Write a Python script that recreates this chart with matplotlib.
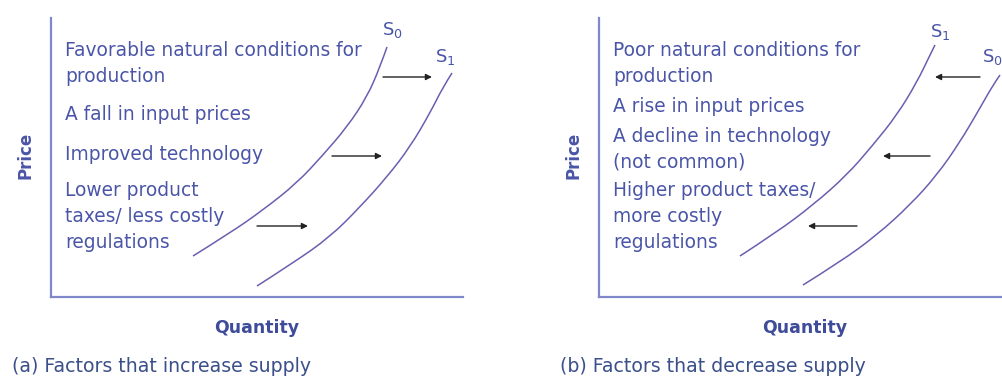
import matplotlib.pyplot as plt
from matplotlib.path import Path
from matplotlib.patches import PathPatch

# supply curves (quantity, price), panel units
q_a_s0 = [142, 179, 212, 246, 272, 296, 316, 329, 336]
p_a_s0 = [41, 64, 87, 114, 142, 170, 200, 230, 250]
q_a_s1 = [206, 242, 279, 309, 336, 359, 379, 392, 401]
p_a_s1 = [11, 34, 60, 90, 120, 150, 184, 210, 224]

q_b_s1 = [141, 178, 214, 248, 274, 298, 318, 331, 336]
p_b_s1 = [41, 65, 92, 122, 152, 182, 215, 242, 252]
q_b_s0 = [204, 241, 278, 311, 338, 361, 381, 394, 401]
p_b_s0 = [12, 35, 62, 92, 122, 155, 189, 212, 222]

# shift arrows: start q, end q, price level
arrow_a_from = [332, 281, 206]
arrow_a_to = [381, 331, 257]
arrow_b_from = [381, 331, 258]
arrow_b_to = [336, 284, 209]
arrow_p = [220, 141, 71]

factors_a = ["Favorable natural conditions for", "production",
             "A fall in input prices", "Improved technology",
             "Lower product", "taxes/ less costly", "regulations"]
factors_a_p = [246, 221, 183, 143, 107, 81, 55]
factors_b = ["Poor natural conditions for", "production",
             "A rise in input prices", "A decline in technology",
             "(not common)", "Higher product taxes/", "more costly",
             "regulations"]
factors_b_p = [246, 221, 190, 160, 135, 106, 81, 55]

TXT = '#4a55a8'
AXC = '#8088cc'
CRV = '#6a5fb0'

plt.rcParams['font.family'] = ['DejaVu Sans']
plt.rcParams['mathtext.fontset'] = 'custom'
plt.rcParams['mathtext.rm'] = 'DejaVu Sans'

W, H = 1002, 380
fig = plt.figure(figsize=(W / 100, H / 100), dpi=100)
fig.patch.set_facecolor('white')


def smooth_curve(ax, q, p):
    # quadratic bezier through midpoints, read points act as controls
    pts = list(zip(q, p))
    verts = [pts[0]]
    codes = [Path.MOVETO]
    for i in range(1, len(pts) - 1):
        if i < len(pts) - 2:
            end = ((pts[i][0] + pts[i + 1][0]) / 2, (pts[i][1] + pts[i + 1][1]) / 2)
        else:
            end = pts[-1]
        verts += [pts[i], end]
        codes += [Path.CURVE3, Path.CURVE3]
    ax.add_patch(PathPatch(Path(verts, codes), fill=False, edgecolor=CRV,
                           lw=1.1, clip_on=False))


def panel(x0, width, curves, labels, afrom, ato, factors, fp, cap, cap_x, qx):
    ax = fig.add_axes([x0 / W, (H - 297) / H, width / W, 279 / H])
    ax.set_xlim(0, width)
    ax.set_ylim(0, 279)
    for s in ['top', 'right']:
        ax.spines[s].set_visible(False)
    for s in ['left', 'bottom']:
        ax.spines[s].set_color(AXC)
        ax.spines[s].set_linewidth(1.6)
    ax.set_xticks([])
    ax.set_yticks([])
    ax.patch.set_alpha(0)
    for (q, p) in curves:
        smooth_curve(ax, q, p)
    for (txt, q, p) in labels:
        ax.text(q, p, txt, color=TXT, fontsize=13, ha='center', va='center',
                clip_on=False)
    for a, b, p in zip(afrom, ato, arrow_p):
        ax.annotate('', xy=(b, p), xytext=(a, p),
                    arrowprops=dict(arrowstyle='-|>', color='#222222', lw=1,
                                    mutation_scale=9, shrinkA=0, shrinkB=0))
    for t, p in zip(factors, fp):
        ax.text(14, p, t, color=TXT, fontsize=13.4, ha='left', va='center')
    fig.text((x0 - 26) / W, 1 - 155 / H, 'Price', rotation=90, color=TXT,
             fontsize=12, fontweight='bold', ha='center', va='center')
    fig.text(qx / W, 1 - 328 / H, 'Quantity', color='#3e4c9a', fontsize=12.5,
             fontweight='bold', ha='center', va='center')
    fig.text(cap_x / W, 1 - 366 / H, cap, color='#3b4f8a', fontsize=13.6,
             ha='left', va='center')
    return ax


panel(51, 412, [(q_a_s0, p_a_s0), (q_a_s1, p_a_s1)],
      [(r'$\mathregular{S_0}$', 341, 267), (r'$\mathregular{S_1}$', 394, 240)],
      arrow_a_from, arrow_a_to, factors_a, factors_a_p,
      '(a) Factors that increase supply', 12, 257)

panel(599, 430, [(q_b_s1, p_b_s1), (q_b_s0, p_b_s0)],
      [(r'$\mathregular{S_1}$', 341, 265), (r'$\mathregular{S_0}$', 393, 240)],
      arrow_b_from, arrow_b_to, factors_b, factors_b_p,
      '(b) Factors that decrease supply', 560, 805)

fig.savefig('out.png', dpi=100, facecolor='white')
